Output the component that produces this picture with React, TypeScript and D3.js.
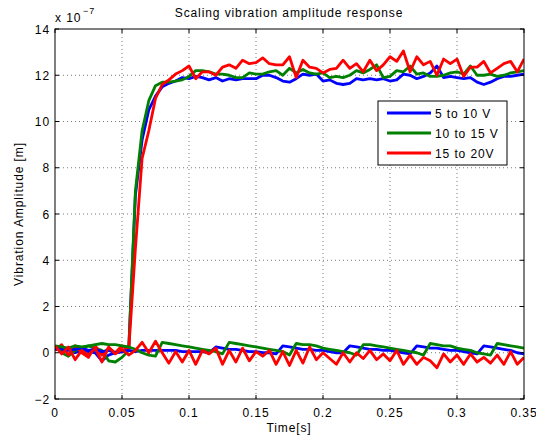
import React from "react";
import * as d3 from "d3";

// sampling interval of every series (s)
const DT = 0.005;

const xTicks = [0, 0.05, 0.1, 0.15, 0.2, 0.25, 0.3, 0.35];
const xTickLabels = ["0", "0.05", "0.1", "0.15", "0.2", "0.25", "0.3", "0.35"];
const yTicks = [-2, 0, 2, 4, 6, 8, 10, 12, 14];
const yTickLabels = ["−2", "0", "2", "4", "6", "8", "10", "12", "14"];

const seriesNames = ["5 to 10 V", "10 to 15 V", "15 to 20V"];
const seriesColors = ["#0000ff", "#008000", "#ff0000"];

// values in units of 1e-7 m
const blueUp = [0.25, 0.1, 0.2, 0.0, 0.1, 0.05, 0.0, -0.35, -0.1, 0.0, 0.05, 0.15,
  6.8, 9.2, 10.5, 11.1, 11.5, 11.65, 11.75, 11.9, 11.85, 11.95, 11.9, 11.8, 11.9, 11.75,
  11.85, 11.8, 11.85, 11.85, 11.85, 12.0, 12.0, 11.9, 11.75, 11.7, 11.85, 12.05, 12.0,
  12.05, 11.75, 11.8, 11.65, 11.6, 11.65, 11.85, 11.8, 11.85, 11.8, 11.85, 11.75, 11.8,
  12.05, 12.0, 11.85, 11.95, 12.1, 12.4, 11.9, 11.95, 11.9, 11.85, 11.9, 11.7, 11.6,
  11.7, 11.85, 11.95, 11.95, 12.0, 12.05];
const greenUp = [0.3, 0.0, -0.15, 0.1, 0.2, 0.3, 0.2, 0.1, -0.35, -0.4, -0.2, 0.1,
  7.0, 9.6, 10.9, 11.55, 11.7, 11.7, 11.75, 11.8, 11.95, 12.2, 12.2, 12.15, 12.05, 12.05,
  12.0, 11.9, 11.9, 12.1, 12.05, 12.05, 12.15, 12.2, 12.0, 12.3, 12.1, 12.25, 12.1, 12.05,
  12.1, 11.9, 11.95, 11.9, 12.0, 12.2, 12.1, 12.25, 12.45, 11.9, 11.95, 12.2, 12.15, 12.4,
  12.05, 12.1, 11.95, 11.95, 12.0, 12.1, 12.15, 12.05, 12.4, 12.0, 12.0, 12.05, 11.95,
  12.0, 12.1, 12.15, 12.2];
const redUp = [0.1, 0.35, -0.1, 0.3, 0.0, -0.2, 0.3, -0.1, 0.2, 0.0, 0.3, 0.1,
  4.5, 8.4, 9.6, 11.0, 11.6, 11.8, 12.05, 12.2, 12.4, 11.85, 12.15, 12.15, 12.0, 12.35,
  12.45, 12.3, 12.65, 12.5, 12.55, 12.75, 12.5, 12.45, 12.45, 12.8, 11.9, 12.65, 12.35,
  12.3, 12.1, 12.25, 12.3, 12.65, 12.3, 12.5, 12.15, 12.65, 12.2, 12.45, 12.8, 12.6,
  13.05, 12.15, 12.8, 12.45, 12.6, 12.0, 12.7, 12.5, 12.7, 11.95, 12.35, 12.35, 12.6,
  12.1, 12.3, 12.5, 12.6, 12.15, 12.7];
const blueLow = [0.15, 0.2, 0.1, 0.15, 0.2, 0.1, 0.15, 0.05, 0.1, 0.0, 0.05, 0.1,
  0.05, 0.1, 0.1, 0.1, 0.1, 0.1, 0.1, 0.05, 0.05, 0.05, 0.05, 0.0, 0.25, 0.2, 0.15, 0.15,
  0.1, 0.05, 0.05, 0.0, 0.0, -0.05, 0.3, 0.25, 0.2, 0.15, 0.15, 0.1, 0.1, 0.05, 0.0, 0.0,
  0.3, 0.25, 0.2, 0.15, 0.15, 0.1, 0.1, 0.05, 0.0, -0.05, 0.3, 0.25, 0.2, 0.2, 0.15, 0.1,
  0.1, 0.05, 0.0, -0.05, 0.3, 0.25, 0.2, 0.15, 0.1, 0.0, -0.05];
const greenLow = [0.3, 0.25, 0.2, 0.3, 0.25, 0.3, 0.35, 0.4, 0.35, 0.35, 0.3, 0.25,
  0.15, 0.0, -0.1, -0.15, 0.45, 0.4, 0.35, 0.3, 0.25, 0.2, 0.15, 0.1, 0.05, -0.05, 0.45,
  0.4, 0.35, 0.3, 0.25, 0.2, 0.15, 0.1, 0.05, -0.1, 0.4, 0.35, 0.35, 0.3, 0.2, 0.15, 0.1,
  0.05, 0.0, -0.1, 0.35, 0.35, 0.3, 0.25, 0.2, 0.15, 0.1, 0.05, 0.0, -0.1, 0.4, 0.35, 0.3,
  0.3, 0.2, 0.15, 0.1, 0.0, -0.05, -0.1, 0.4, 0.35, 0.3, 0.25, 0.2];
const redLow = [0.3, -0.05, 0.25, -0.3, 0.1, -0.1, 0.2, -0.4, 0.25, -0.05, 0.15, -0.1,
  0.1, 0.45, 0.0, 0.5, 0.0, -0.45, 0.05, -0.4, 0.1, -0.5, 0.1, -0.05, 0.2, -0.5, 0.1,
  -0.4, 0.2, -0.35, 0.05, -0.15, 0.1, -0.5, 0.05, -0.55, 0.1, -0.45, 0.25, -0.3, 0.0,
  -0.25, -0.5, 0.0, -0.4, 0.0, -0.25, 0.1, -0.3, -0.05, -0.35, 0.1, -0.5, -0.1, -0.5,
  -0.2, -0.35, -0.65, -0.05, -0.4, -0.1, -0.5, -0.05, -0.4, -0.2, -0.45, -0.1, -0.5,
  0.05, -0.5, -0.2];

const W = 536;
const H = 438;
const M = { left: 55, right: 524, top: 29, bottom: 399 };
const FONT = "'Liberation Sans', Arial, Helvetica, sans-serif";
const LS = 0.9;

export default function App() {
  const x = d3.scaleLinear().domain([0, 0.35]).range([M.left, M.right]);
  const y = d3.scaleLinear().domain([-2, 14]).range([M.bottom, M.top]);
  const line = d3
    .line<number>()
    .x((_, i) => x(i * DT))
    .y((v) => y(v));

  const lines = [
    { d: blueUp, c: 0 },
    { d: greenUp, c: 1 },
    { d: redUp, c: 2 },
    { d: blueLow, c: 0 },
    { d: greenLow, c: 1 },
    { d: redLow, c: 2 },
  ];

  const lg = { x: 378, y: 101, w: 129, h: 64 };
  const tickLen = 4;

  return (
    <svg width={W} height={H} style={{ position: "absolute", left: 0, top: 0, background: "#fff" }}
      fontFamily={FONT} letterSpacing={LS}>
      <rect x={0} y={0} width={W} height={H} fill="#fff" />
      <defs>
        <clipPath id="plotclip">
          <rect x={M.left} y={M.top} width={M.right - M.left} height={M.bottom - M.top} />
        </clipPath>
      </defs>
      <rect x={M.left} y={M.top} width={M.right - M.left} height={M.bottom - M.top} fill="#fff" />
      {/* grid */}
      {xTicks.slice(1, -1).map((t) => (
        <line key={"gx" + t} x1={x(t)} x2={x(t)} y1={M.top} y2={M.bottom}
          stroke="#555" strokeWidth={0.8} strokeDasharray="1,3" />
      ))}
      {yTicks.slice(1, -1).map((t) => (
        <line key={"gy" + t} x1={M.left} x2={M.right} y1={y(t)} y2={y(t)}
          stroke="#555" strokeWidth={0.8} strokeDasharray="1,3" />
      ))}
      {/* data */}
      <g clipPath="url(#plotclip)">
        {lines.map((l, i) => (
          <path key={i} d={line(l.d) || ""} fill="none" stroke={seriesColors[l.c]}
            strokeWidth={2.8} strokeLinejoin="round" />
        ))}
      </g>
      {/* ticks */}
      {xTicks.map((t) => (
        <g key={"tx" + t}>
          <line x1={x(t)} x2={x(t)} y1={M.bottom} y2={M.bottom - tickLen} stroke="#000" />
          <line x1={x(t)} x2={x(t)} y1={M.top} y2={M.top + tickLen} stroke="#000" />
        </g>
      ))}
      {yTicks.map((t) => (
        <g key={"ty" + t}>
          <line x1={M.left} x2={M.left + tickLen} y1={y(t)} y2={y(t)} stroke="#000" />
          <line x1={M.right} x2={M.right - tickLen} y1={y(t)} y2={y(t)} stroke="#000" />
        </g>
      ))}
      <rect x={M.left} y={M.top} width={M.right - M.left} height={M.bottom - M.top}
        fill="none" stroke="#000" strokeWidth={1} />
      {/* tick labels */}
      {xTicks.map((t, i) => (
        <text key={"lx" + t} x={x(t)} y={417} fontSize={12} textAnchor="middle" fill="#000">
          {xTickLabels[i]}
        </text>
      ))}
      {yTicks.map((t, i) => (
        <text key={"ly" + t} x={50} y={y(t) + 4.5} fontSize={12} textAnchor="end" fill="#000">
          {yTickLabels[i]}
        </text>
      ))}
      {/* exponent */}
      <text x={55} y={22} fontSize={12} fill="#000">x 10</text>
      <text x={83} y={14} fontSize={9} fill="#000">−7</text>
      {/* title and labels */}
      <text x={289} y={17} fontSize={12} textAnchor="middle" fill="#000">
        Scaling vibration amplitude response
      </text>
      <text x={289} y={432} fontSize={12} textAnchor="middle" fill="#000">Time[s]</text>
      <text transform={`translate(23,${(M.top + M.bottom) / 2}) rotate(-90)`} fontSize={12}
        textAnchor="middle" fill="#000">
        Vibration Amplitude [m]
      </text>
      {/* legend */}
      <rect x={lg.x} y={lg.y} width={lg.w} height={lg.h} fill="#fff" stroke="#000" strokeWidth={1} />
      {seriesNames.map((n, i) => {
        const yy = 113 + i * 20;
        return (
          <g key={n}>
            <line x1={387} x2={431} y1={yy} y2={yy} stroke={seriesColors[i]} strokeWidth={2.8} />
            <text x={435} y={yy + 4.5} fontSize={12} fill="#000">{n}</text>
          </g>
        );
      })}
    </svg>
  );
}
